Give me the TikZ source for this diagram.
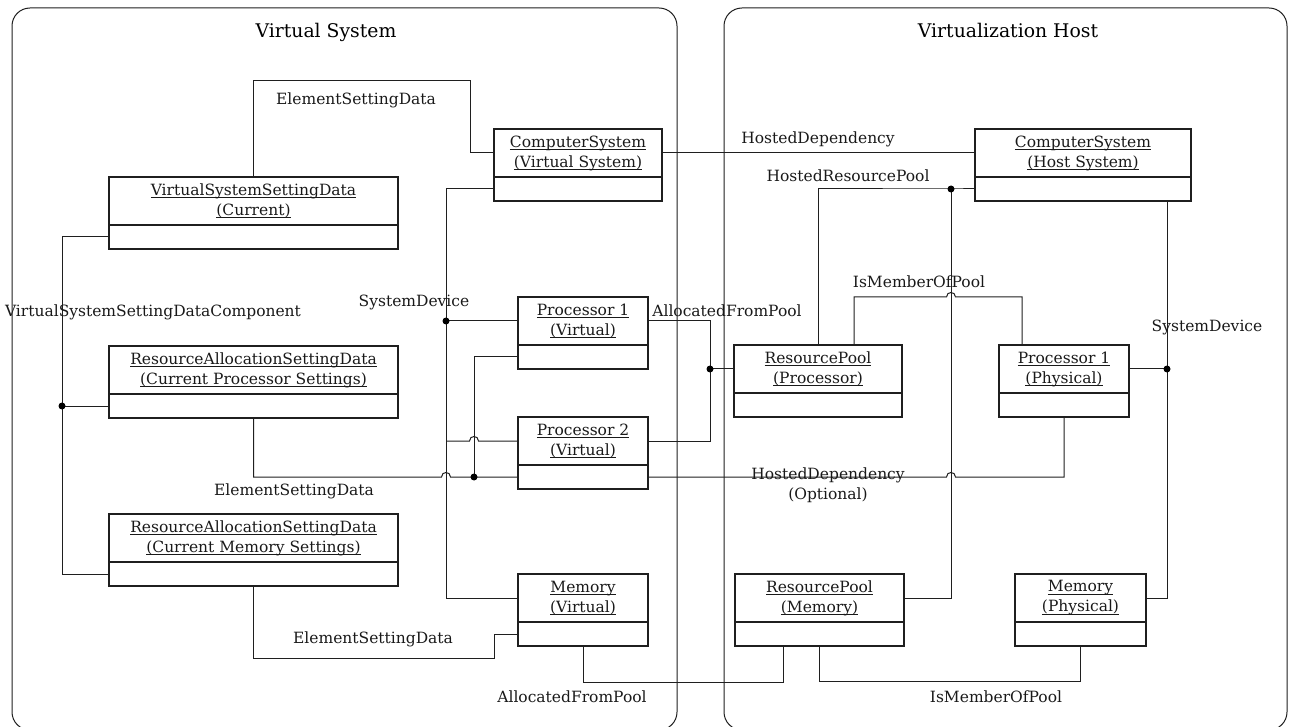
\documentclass[tikz,border=0pt]{standalone}
\usepackage{fontspec}
\setmainfont{DejaVu Serif}
\usetikzlibrary{calc}
\definecolor{lc}{gray}{0.12}
\definecolor{tc}{gray}{0.1}
\newcommand\labfont{\fontsize{15.5}{20}\selectfont}
\newcommand\ttlfont{\fontsize{18.8}{22}\selectfont}
\newcommand\ulx[1]{\setbox0\hbox{#1}\rlap{\rule[-2.4pt]{\wd0}{0.7pt}}\box0}
\tikzset{
  clstop/.style={draw=lc, line width=1.2pt, inner sep=0pt, outer sep=0pt, minimum height=48pt, align=center, font=\labfont, text=tc},
  clsbot/.style={draw=lc, line width=1.2pt, inner sep=0pt, outer sep=0pt, minimum height=24pt},
  conn/.style={draw=lc, line width=1pt},
  dot/.style={circle, fill=black, inner sep=0pt, minimum size=7pt},
  lbl/.style={font=\labfont, anchor=base, inner sep=0pt, text=tc, align=center},
  ttl/.style={font=\ttlfont, anchor=base, inner sep=0pt, text=black},
  frame/.style={draw=lc, line width=1pt, rounded corners=18pt}
}
\newcommand\umlbox[6]{%
  \node[clstop, minimum width=#4pt, anchor=north west] (#1) at (#2,#3) {\ulx{#5}\\\ulx{#6}};
  \node[clsbot, minimum width=#4pt, anchor=north west] (#1B) at (#1.south west) {};
}
\begin{document}
\begin{tikzpicture}[x=1pt,y=-1pt]
\useasboundingbox (0,0) rectangle (1291,727);
% containers
\draw[frame] (12,8) rectangle (677,730);
\draw[frame] (724,8) rectangle (1287,730);
\node[ttl] (t1) at (326,38) {Virtual System};
\node[ttl] (t2) at (1008,38) {Virtualization Host};
% boxes
\umlbox{vssd}{109}{177}{289}{VirtualSystemSettingData}{(Current)}
\umlbox{rasdp}{109}{346}{289}{ResourceAllocationSettingData}{(Current Processor Settings)}
\umlbox{rasdm}{109}{514}{289}{ResourceAllocationSettingData}{(Current Memory Settings)}
\umlbox{csv}{494}{129}{168}{ComputerSystem}{(Virtual System)}
\umlbox{p1v}{518}{297}{130}{Processor 1}{(Virtual)}
\umlbox{p2v}{518}{417}{130}{Processor 2}{(Virtual)}
\umlbox{memv}{518}{574}{130}{Memory}{(Virtual)}
\umlbox{csh}{975}{129}{216}{ComputerSystem}{(Host System)}
\umlbox{rpp}{734}{345}{168}{ResourcePool}{(Processor)}
\umlbox{p1p}{999}{345}{130}{Processor 1}{(Physical)}
\umlbox{rpm}{735}{574}{169}{ResourcePool}{(Memory)}
\umlbox{memp}{1015}{574}{131}{Memory}{(Physical)}
% connectors
\draw[conn] (vssd.north) |- (470,81) |- (csv.west);
\draw[conn] (csv.east) -- (csh.west);
\coordinate (hrp) at (951,189);
\draw[conn] (cshB.west) -- (hrp) -| (rpp.north);
\draw[conn] (hrp) |- (rpm.east);
\draw[conn] ([xshift=36pt]rpp.north) |- (946.5,297) .. controls (946.5,291) and (955.5,291) .. (955.5,297) -| ([xshift=-42pt]p1p.north);
\coordinate (sdh) at (1167,369);
\draw[conn] ([xshift=84pt]cshB.south) |- (memp.east);
\draw[conn] (p1p.east) -- (sdh);
\coordinate (sdv) at (446,321);
\draw[conn] (csvB.west) -- (446,189) |- (memv.west);
\draw[conn] (sdv) -- (p1v.west);
\draw[conn] (446,441) -- (469.5,441) .. controls (469.5,435) and (478.5,435) .. (478.5,441) -- (p2v.west);
\draw[conn] (vssdB.west) -- (62,237) |- (rasdmB.west);
\coordinate (vsc) at (62,406);
\draw[conn] (vsc) -- (rasdpB.west);
\draw[conn] (rasdpB.south) |- (441.5,477) .. controls (441.5,471) and (450.5,471) .. (450.5,477) -- (p2vB.west);
\coordinate (esd) at (474,477);
\draw[conn] (p1vB.west) -| (esd);
\draw[conn] (p2vB.east) -- (946.5,477) .. controls (946.5,471) and (955.5,471) .. (955.5,477) -| (p1pB.south);
\coordinate (afp) at (710,369);
\draw[conn] (p1v.east) -| (710,441) -- (p2v.east);
\draw[conn] (afp) -- (rpp.west);
\draw[conn] (rasdmB.south) |- (494,658) |- (memvB.west);
\draw[conn] (memvB.south) |- (783,682) -- ([xshift=-36.5pt]rpmB.south);
\draw[conn] (rpmB.south) -- ++(0,35) -| (mempB.south);
% dots
\node[dot] (d1) at (hrp) {};
\node[dot] (d2) at (sdh) {};
\node[dot] (d3) at (sdv) {};
\node[dot] (d4) at (vsc) {};
\node[dot] (d5) at (esd) {};
\node[dot] (d6) at (afp) {};
% labels
\node[lbl] (l1) at (356,105) {ElementSettingData};
\node[lbl] (l2) at (818,144) {HostedDependency};
\node[lbl] (l3) at (848,182) {HostedResourcePool};
\node[lbl] (l4) at (919,288) {IsMemberOfPool};
\node[lbl] (l5) at (727,317) {AllocatedFromPool};
\node[lbl] (l6) at (414,307) {SystemDevice};
\node[lbl] (l7) at (153,317) {VirtualSystemSettingDataComponent};
\node[lbl] (l8) at (1207,332) {SystemDevice};
\node[lbl] (l9) at (294,495) {ElementSettingData};
\node[lbl] (l10) at (828,499) {HostedDependency\\(Optional)};
\node[lbl] (l11) at (373,643) {ElementSettingData};
\node[lbl] (l12) at (572,702) {AllocatedFromPool};
\node[lbl] (l13) at (996,702) {IsMemberOfPool};
\end{tikzpicture}
\end{document}
